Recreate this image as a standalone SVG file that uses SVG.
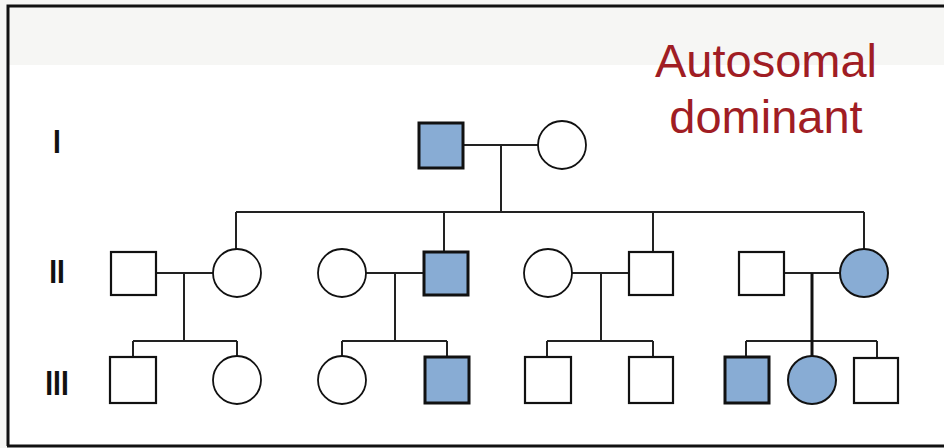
<svg xmlns="http://www.w3.org/2000/svg" width="944" height="448" viewBox="0 0 944 448">
<style>
.m{fill:#fff;stroke:#111;stroke-width:2.2}
.ma{fill:#88acd4;stroke:#111;stroke-width:3}
.f{fill:#fff;stroke:#111;stroke-width:1.8}
.fa{fill:#88acd4;stroke:#111;stroke-width:2}
.ln{stroke:#222;stroke-width:2;fill:none}
.gen{font-family:"Liberation Sans",Arial,sans-serif;font-weight:bold;font-size:33px;fill:#111;text-anchor:middle}
.title{font-family:"Liberation Sans",Arial,sans-serif;font-size:47px;fill:#a01d24;text-anchor:middle}
</style>
<rect x="0" y="0" width="944" height="448" fill="#fff"/>
<rect x="0" y="0" width="944" height="65" fill="#f6f6f4"/>
<rect x="0" y="0" width="7" height="448" fill="#f6f6f4"/>
<path d="M8,446 V6 H944" fill="none" stroke="#111" stroke-width="3"/>
<path d="M7,446 H944" fill="none" stroke="#111" stroke-width="3"/>
<g id="title">
<text class="title" x="766" y="77">Autosomal</text>
<text class="title" x="766" y="133">dominant</text>
</g>
<g id="generations">
<text class="gen" transform="translate(57,153) scale(0.85,1)">I</text>
<text class="gen" transform="translate(57,283) scale(0.85,1)">II</text>
<text class="gen" transform="translate(57,395) scale(0.85,1.05)">III</text>
</g>
<g id="connectors">
<path class="ln" d="M463,145 H538 M501,145 V212 M236,212 H864 M236,212 V249 M444,212 V251 M653,212 V252 M864,212 V249"/>
<path class="ln" d="M156,273 H213 M184,273 V341 M133,341 H237 M133,341 V357 M237,341 V356"/>
<path class="ln" d="M366,273 H423 M395,273 V341 M342,341 H447 M342,341 V356 M447,341 V357"/>
<path class="ln" d="M572,273 H629 M601,273 V341 M547,341 H653 M547,341 V357 M653,341 V357"/>
<path class="ln" d="M784,273 H840 M746,341 H877 M746,341 V357 M877,341 V358"/>
<path d="M812,273 V356" stroke="#111" stroke-width="3" fill="none"/>
</g>
<g id="I-1"><rect class="ma" x="419" y="123" width="44" height="45"/></g>
<g id="I-2"><circle class="f" cx="562" cy="145" r="24"/></g>
<g id="II-1"><rect class="m" x="111" y="252" width="45" height="43"/></g>
<g id="II-2"><circle class="f" cx="237" cy="273" r="24"/></g>
<g id="II-3"><circle class="f" cx="342" cy="273" r="24"/></g>
<g id="II-4"><rect class="ma" x="424" y="252" width="44" height="43"/></g>
<g id="II-5"><circle class="f" cx="548" cy="273" r="24"/></g>
<g id="II-6"><rect class="m" x="629" y="252" width="44" height="43"/></g>
<g id="II-7"><rect class="m" x="739" y="252" width="45" height="43"/></g>
<g id="II-8"><circle class="fa" cx="864" cy="273" r="24"/></g>
<g id="III-1"><rect class="m" x="110" y="357" width="46" height="46"/></g>
<g id="III-2"><circle class="f" cx="237" cy="380" r="24"/></g>
<g id="III-3"><circle class="f" cx="342" cy="380" r="24"/></g>
<g id="III-4"><rect class="ma" x="425" y="357" width="44" height="46"/></g>
<g id="III-5"><rect class="m" x="525" y="357" width="46" height="46"/></g>
<g id="III-6"><rect class="m" x="629" y="357" width="44" height="46"/></g>
<g id="III-7"><rect class="ma" x="725" y="357" width="44" height="46"/></g>
<g id="III-8"><circle class="fa" cx="812" cy="380" r="24"/></g>
<g id="III-9"><rect class="m" x="854" y="358" width="44" height="45"/></g>
</svg>
